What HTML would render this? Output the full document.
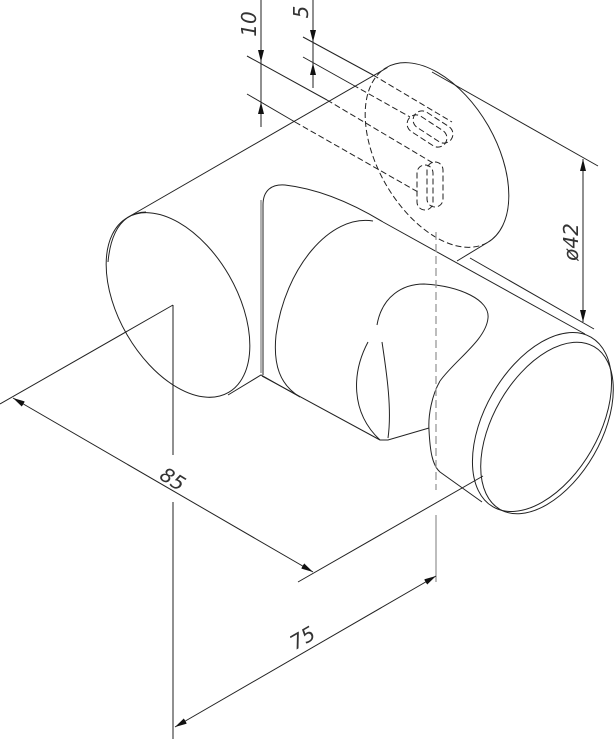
<!DOCTYPE html>
<html><head><meta charset="utf-8"><style>
html,body{margin:0;padding:0;background:#fff;}
svg{display:block;}
text{font-family:"DejaVu Sans","Liberation Sans",sans-serif;font-style:italic;font-weight:200;font-size:20px;fill:#333;}
</style></head><body>
<svg width="615" height="739" viewBox="0 0 615 739" xmlns="http://www.w3.org/2000/svg">
<defs>
<marker id="ar" viewBox="0 0 12 6" refX="12" refY="3" markerWidth="12" markerHeight="6" markerUnits="userSpaceOnUse" orient="auto-start-reverse">
<path d="M0,0 L12,3 L0,6 Z" fill="#111"/>
</marker>
</defs>
<g fill="none" stroke="#222" stroke-width="1">
<ellipse cx="178" cy="305" rx="101" ry="59" transform="rotate(60 178 305)"/>
<path d="M108,262 C110,240 116,226 127,218 C133,214 139,212 146,212" />
<line x1="127.5" y1="217.5" x2="387.5" y2="67.5"/>
<path d="M386.5,67.5 A101 59 60 0 1 487.5,242.5"/>
<path d="M487.5,242.5 A101 59 60 0 1 386.5,67.5" stroke-dasharray="6,3"/>
<line x1="487.5" y1="242.5" x2="457" y2="261"/>
<g stroke-dasharray="6,3">
<rect x="405" y="122" width="44" height="18" rx="9" transform="rotate(33 427 131)"/>
<rect x="411" y="118" width="44" height="18" rx="9" transform="rotate(33 433 127)"/>
<rect x="417" y="165" width="16" height="45" rx="8"/>
<rect x="427" y="162" width="16" height="45" rx="8"/>
<line x1="373" y1="75" x2="452" y2="122"/>
<line x1="353" y1="85" x2="410" y2="117"/>
<line x1="327" y1="100" x2="433" y2="163"/>
<line x1="295" y1="122" x2="418" y2="192"/>
</g>
<line x1="303" y1="37" x2="373" y2="75"/>
<line x1="303" y1="57" x2="353" y2="85"/>
<line x1="247" y1="56" x2="327" y2="100"/>
<line x1="247" y1="94" x2="295" y2="122"/>
<line x1="261" y1="0" x2="261" y2="127"/>
<line x1="261" y1="40" x2="261" y2="62" marker-end="url(#ar)"/>
<line x1="261" y1="122" x2="261" y2="102" marker-end="url(#ar)"/>
<line x1="313" y1="0" x2="313" y2="88"/>
<line x1="313" y1="20" x2="313" y2="42" marker-end="url(#ar)"/>
<line x1="313" y1="85" x2="313" y2="63" marker-end="url(#ar)"/>
<line x1="432" y1="72" x2="598" y2="166"/>
<line x1="470" y1="258" x2="594" y2="329"/>
<line x1="583" y1="159" x2="583" y2="322" marker-start="url(#ar)" marker-end="url(#ar)"/>
<line x1="383" y1="222" x2="585" y2="334"/>
<path d="M263,375 L263,205 C263,190 272,184 285,185 C320,189 355,205 383,222"/>
<line x1="261" y1="200" x2="261" y2="373" stroke="#999" stroke-width="1.5"/>
<path d="M228,395 L261,375 L300,397"/>
<line x1="262" y1="376" x2="380" y2="440"/>
<path d="M380,440 L388,440 L429,428"/>
<path d="M373,221 C330,214 285,268 276,335 C273,365 280,385 300,397"/>
<path d="M368,342 C352,372 350,412 380,440"/>
<path d="M382,342 C387,375 392,410 388,438"/>
<path d="M377,325 C382,296 403,284 424,284 C460,286 490,300 488,318 C486,340 455,360 440,381"/>
<path d="M440,381 C432,395 428,415 429,430 C430,450 432,465 440,472 L482,502"/>
<ellipse cx="542" cy="422" rx="98" ry="57" transform="rotate(-60 542 422)"/>
<ellipse cx="547" cy="428" rx="94" ry="54" transform="rotate(-60 547 428)"/>
<line x1="436" y1="232" x2="436" y2="490" stroke="#999" stroke-width="1.3" stroke-dasharray="8,4"/>
<line x1="436" y1="515" x2="436" y2="582" stroke="#999" stroke-width="1.3"/>
<line x1="173" y1="305" x2="0" y2="404"/>
<line x1="173" y1="305" x2="173" y2="455"/>
<line x1="173" y1="502" x2="173" y2="739"/>
<line x1="13" y1="398" x2="313" y2="572" marker-start="url(#ar)" marker-end="url(#ar)"/>
<line x1="298" y1="582" x2="483" y2="476"/>
<line x1="436" y1="576" x2="175" y2="727" marker-start="url(#ar)" marker-end="url(#ar)"/>
</g>
<text x="0" y="0" transform="translate(256,24) rotate(-90)" text-anchor="middle">10</text>
<text x="0" y="0" transform="translate(308,12) rotate(-90)" text-anchor="middle">5</text>
<text x="0" y="0" transform="translate(578,242) rotate(-90)" text-anchor="middle">ø42</text>
<text x="0" y="0" transform="translate(169,485) rotate(32)" text-anchor="middle">85</text>
<text x="0" y="0" transform="translate(306,644) rotate(-30)" text-anchor="middle">75</text>
</svg>
</body></html>
